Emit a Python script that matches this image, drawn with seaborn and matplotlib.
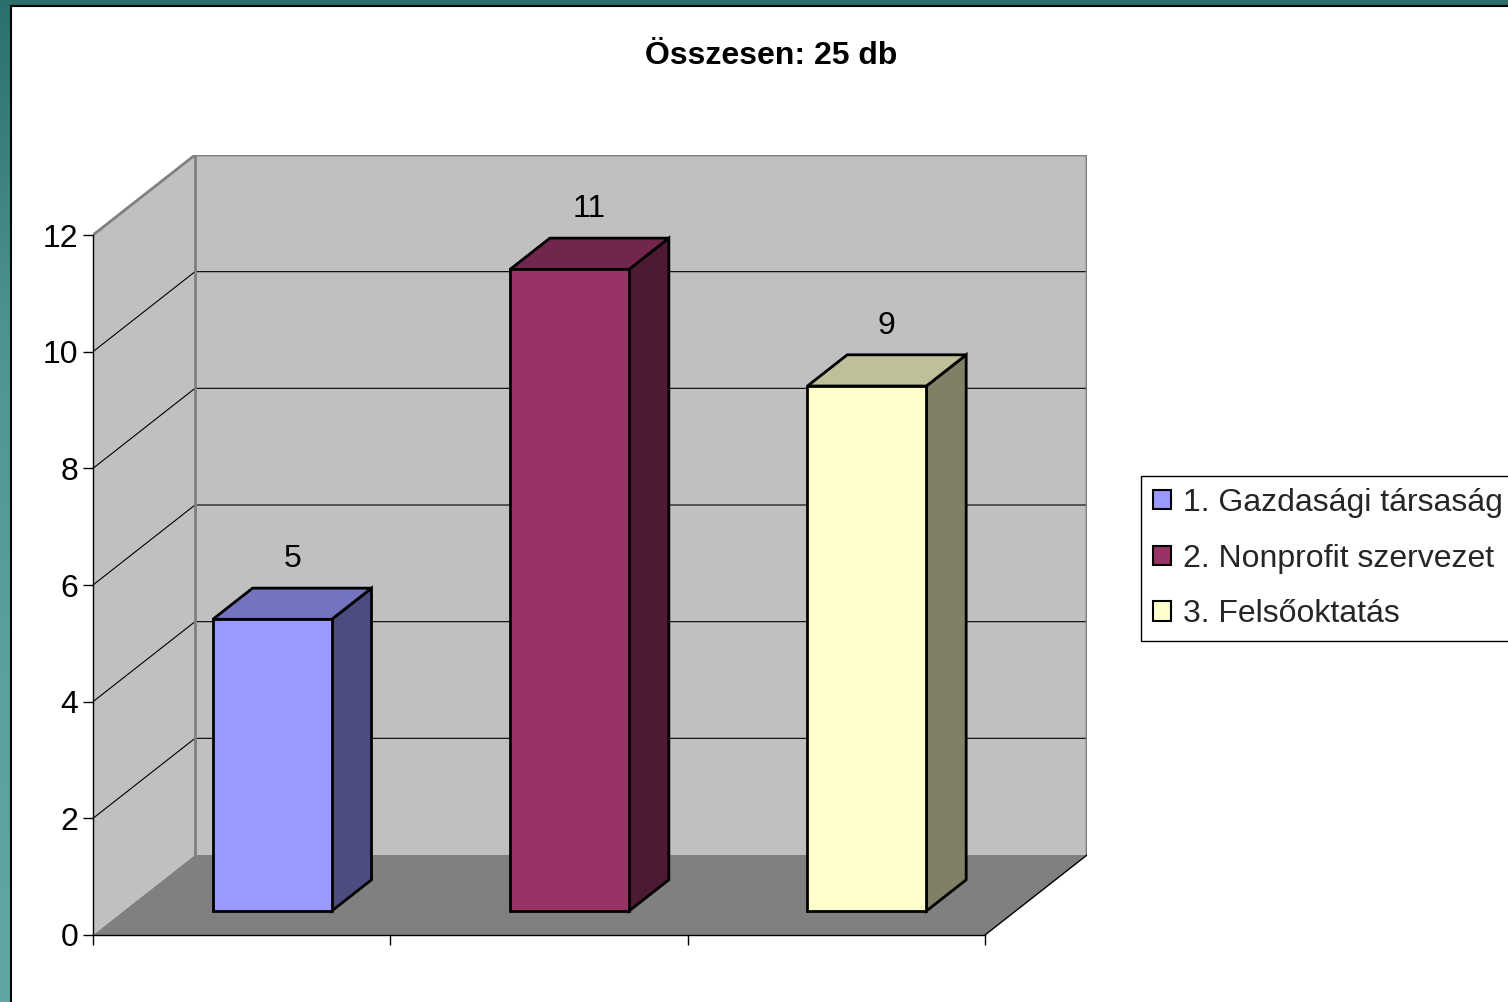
import numpy as np
import pandas as pd
import matplotlib
matplotlib.use("Agg")
import matplotlib.pyplot as plt
import seaborn as sns
from matplotlib.patches import Polygon, Rectangle, Patch
from matplotlib.colors import LinearSegmentedColormap

# ---- data ----
categories = ["1. Gazdasági társaság", "2. Nonprofit szervezet", "3. Felsőoktatás"]
values = [5, 11, 9]
title = "Összesen: 25 db"
y_ticks = [0, 2, 4, 6, 8, 10, 12]
front_colors = ["#9999FF", "#993366", "#FFFFCC"]
top_colors = ["#7373BF", "#73264D", "#BFBF99"]
side_colors = ["#4C4C80", "#4D1933", "#808066"]

W, H = 1508, 1002
sns.set_theme(style="white")
plt.rcParams["font.family"] = ["Liberation Sans", "DejaVu Sans"]

fig = plt.figure(figsize=(W / 100, H / 100), dpi=100)

# ---- background frame (teal gradient + white panel) ----
bg = fig.add_axes([0, 0, 1, 1], zorder=0)
cmap = LinearSegmentedColormap.from_list("teal", ["#2B706D", "#4E9490", "#5BA09D", "#62A6A3"])
grad = np.linspace(0, 1, 256).reshape(-1, 1)
bg.imshow(grad, cmap=cmap, extent=(0, W, H, 0), aspect="auto")
bg.add_patch(Rectangle((11, 6), W + 20, H + 20, facecolor="white", edgecolor="black", lw=1.5))
bg.set_xlim(0, W)
bg.set_ylim(H, 0)
bg.axis("off")

# ---- main axes (front plane) ----
ax = fig.add_axes([93 / W, 67 / H, 994 / W, 780 / H], zorder=1)
ax.patch.set_alpha(0)
DX = 102 / 297.33   # depth offset in x data units
DY = 80 / 58.333    # depth offset in y data units
F0, F1 = 0.30, 0.69  # bar front/back depth fraction
ymax = max(y_ticks)

positions = np.arange(len(categories)) + F0 * DX
df = pd.DataFrame({"pos": positions, "value": values, "cat": categories})
sns.barplot(data=df, x="pos", y="value", hue="cat", native_scale=True,
            palette=dict(zip(categories, front_colors)), saturation=1, width=0.4,
            dodge=False, legend=False, bottom=F0 * DY, edgecolor="black", linewidth=2,
            zorder=3, ax=ax)
bars = list(ax.patches)

# walls and floor
wall_c, floor_c, edge_g = "#C0C0C0", "#808080", "#808080"
x0w, x1w = -0.5, len(categories) - 0.5
ax.add_patch(Polygon([(x0w, 0), (x0w + DX, DY), (x0w + DX, ymax + DY), (x0w, ymax)],
                     closed=True, facecolor=wall_c, edgecolor="none", zorder=0.5))
ax.add_patch(Polygon([(x0w + DX, DY), (x1w + DX, DY), (x1w + DX, ymax + DY), (x0w + DX, ymax + DY)],
                     closed=True, facecolor=wall_c, edgecolor="none", zorder=0.5))
ax.add_patch(Polygon([(x0w, 0), (x1w, 0), (x1w + DX, DY), (x0w + DX, DY)],
                     closed=True, facecolor=floor_c, edgecolor="none", zorder=0.6))
for v in y_ticks[1:-1]:
    ax.plot([x0w, x0w + DX, x1w + DX], [v, v + DY, v + DY], color="black", lw=0.8, zorder=0.7)
ax.plot([x0w, x0w + DX, x1w + DX, x1w + DX], [ymax, ymax + DY, ymax + DY, DY],
        color=edge_g, lw=2, zorder=0.8)
ax.plot([x0w + DX, x0w + DX], [DY, ymax + DY], color=edge_g, lw=2, zorder=0.8)
ax.plot([x1w, x1w + DX], [0, DY], color="black", lw=1, zorder=0.8)

# 3D faces of bars
ddx, ddy = (F1 - F0) * DX, (F1 - F0) * DY
for bar, v, tc, sc in zip(bars, values, top_colors, side_colors):
    bx0 = bar.get_x()
    bx1 = bx0 + bar.get_width()
    by0 = bar.get_y()
    by1 = by0 + bar.get_height()
    ax.add_patch(Polygon([(bx1, by0), (bx1 + ddx, by0 + ddy), (bx1 + ddx, by1 + ddy), (bx1, by1)],
                         closed=True, facecolor=sc, edgecolor="black", lw=2, zorder=2.9))
    ax.add_patch(Polygon([(bx0, by1), (bx1, by1), (bx1 + ddx, by1 + ddy), (bx0 + ddx, by1 + ddy)],
                         closed=True, facecolor=tc, edgecolor="black", lw=2, zorder=2.9))
    ax.annotate(str(v), xy=((bx0 + bx1) / 2 + ddx / 2, by1 + ddy), xytext=(0, 21),
                textcoords="offset points", ha="center", va="center", fontsize=23,
                color="black", zorder=5)

ax.set_xlim(x0w, x1w + DX)
ax.set_ylim(0, ymax + DY)
ax.set_xticks(np.arange(len(categories) + 1) - 0.5)
ax.set_xticklabels([])
ax.set_yticks(y_ticks)
ax.set_yticklabels([str(t) for t in y_ticks])
ax.set_xlabel("")
ax.set_ylabel("")
for s in ["top", "right"]:
    ax.spines[s].set_visible(False)
for s in ["left", "bottom"]:
    ax.spines[s].set_visible(True)
    ax.spines[s].set_color("black")
    ax.spines[s].set_linewidth(1)
    ax.spines[s].set_zorder(4)
ax.spines["left"].set_bounds(0, ymax)
ax.spines["bottom"].set_bounds(x0w, x1w)
ax.tick_params(axis="both", which="both", bottom=True, left=True, direction="out",
               length=7.5, width=1, color="black", labelsize=23, labelcolor="black", pad=3)

fig.text(771 / W, 1 - 56 / H, title, ha="center", va="center", fontsize=23,
         fontweight="bold", color="black")

handles = [Patch(facecolor=c, edgecolor="black", lw=1.5) for c in front_colors]
leg = ax.legend(handles, categories, loc="upper left", bbox_to_anchor=(1141 / W, 1 - 476 / H),
                bbox_transform=fig.transFigure, fontsize=23, frameon=True, fancybox=False,
                handlelength=0.55, handleheight=0.55, handletextpad=0.38, borderpad=0.38,
                labelspacing=0.8, borderaxespad=0)
leg.get_frame().set_edgecolor("black")
leg.get_frame().set_linewidth(1)
leg.get_frame().set_facecolor("white")
leg.get_frame().set_alpha(1)

fig.savefig("out.png", dpi=100)
